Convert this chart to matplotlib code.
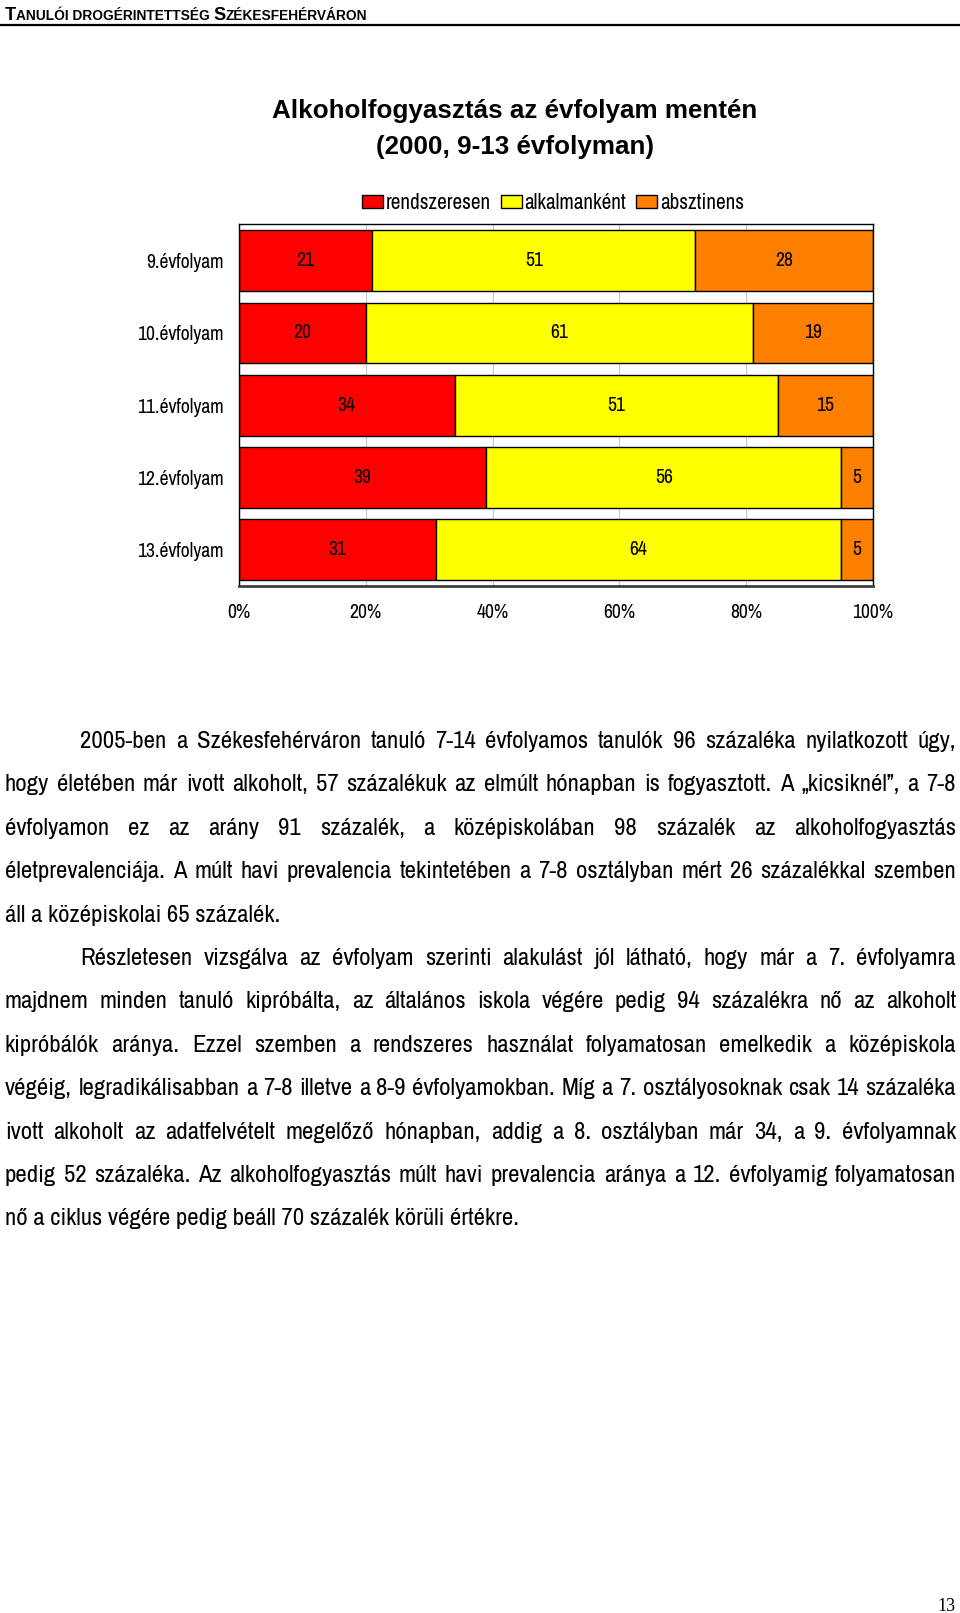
import matplotlib
matplotlib.use('Agg')
import matplotlib.pyplot as plt
from matplotlib import font_manager as fm

# Data
evfolyam = ['9.évfolyam', '10.évfolyam', '11.évfolyam', '12.évfolyam', '13.évfolyam']
rendszeresen = [21, 20, 34, 39, 31]
alkalmankent = [51, 61, 51, 56, 64]
absztinens = [28, 19, 15, 5, 5]
sorozatok = ['rendszeresen', 'alkalmanként', 'absztinens']
szinek = ['#ff0000', '#ffff00', '#ff8000']
xticks = [0, 20, 40, 60, 80, 100]
xticklabels = ['0%', '20%', '40%', '60%', '80%', '100%']

cim = ['Alkoholfogyasztás az évfolyam mentén', '(2000, 9-13 évfolyman)']
fejlec = [('T', True), ('ANULÓI DROGÉRINTETTSÉG ', False), ('S', True), ('ZÉKESFEHÉRVÁRON', False)]
oldalszam = '13'

bekezdesek = [
    ['2005-ben a Székesfehérváron tanuló 7-14 évfolyamos tanulók 96 százaléka nyilatkozott úgy,',
     'hogy életében már ivott alkoholt, 57 százalékuk az elmúlt hónapban is fogyasztott. A „kicsiknél”, a 7-8',
     'évfolyamon ez az arány 91 százalék, a középiskolában 98 százalék az alkoholfogyasztás',
     'életprevalenciája. A múlt havi prevalencia tekintetében a 7-8 osztályban mért 26 százalékkal szemben',
     'áll a középiskolai 65 százalék.'],
    ['Részletesen vizsgálva az évfolyam szerinti alakulást jól látható, hogy már a 7. évfolyamra',
     'majdnem minden tanuló kipróbálta, az általános iskola végére pedig 94 százalékra nő az alkoholt',
     'kipróbálók aránya. Ezzel szemben a rendszeres használat folyamatosan emelkedik a középiskola',
     'végéig, legradikálisabban a 7-8 illetve a 8-9 évfolyamokban. Míg a 7. osztályosoknak csak 14 százaléka',
     'ivott alkoholt az adatfelvételt megelőző hónapban, addig a 8. osztályban már 34, a 9. évfolyamnak',
     'pedig 52 százaléka. Az alkoholfogyasztás múlt havi prevalencia aránya a 12. évfolyamig folyamatosan',
     'nő a ciklus végére pedig beáll 70 százalék körüli értékre.'],
]


def font_weight(f):
    w = f.weight
    if isinstance(w, str):
        w = fm.weight_dict.get(w, 400)
    return w


def narrow_font():
    regular = [f for f in fm.fontManager.ttflist
               if font_weight(f) == 400 and f.style == 'normal']
    for f in regular:
        if 'Narrow' in f.name:
            return f.fname
    for f in regular:
        if 'condensed' in str(f.stretch) and 'Sans' in f.name:
            return f.fname
    for f in regular:
        if 'Condensed' in f.name:
            return f.fname
    return fm.findfont('Liberation Sans')


narrow = narrow_font()

W, H = 960, 1613
fig = plt.figure(figsize=(W / 100, H / 100), dpi=100)
renderer = fig.canvas.get_renderer()


def px(x, y):
    return x / W, 1 - y / H


def width(s, fp):
    t = fig.text(0, 0, s, fontproperties=fp)
    w = t.get_window_extent(renderer).width
    t.remove()
    return w


def fit(s, target, **kw):
    fp = fm.FontProperties(size=10, **kw)
    return 10 * target / width(s, fp)


# header in small caps
ossz = sum(width(t, fm.FontProperties(family='Liberation Sans', weight='bold', size=10 if n else 7.5))
           for t, n in fejlec)
big = 10 * 362 / ossz
small = big * 0.75
x = 5
for txt, nagy in fejlec:
    fp = fm.FontProperties(family='Liberation Sans', weight='bold', size=big if nagy else small)
    fig.text(*px(x, 19.5), txt, fontproperties=fp, va='baseline', ha='left')
    x += width(txt, fp)
fig.add_artist(plt.Line2D([0, 1], [1 - 24.5 / H] * 2, color='black', lw=1.6))

# title
tsize = fit(cim[0], 483, family='Liberation Sans', weight='bold')
tfp = fm.FontProperties(family='Liberation Sans', weight='bold', size=tsize)
fig.text(*px(515, 118), cim[0], fontproperties=tfp, ha='center', va='baseline')
fig.text(*px(515, 154), cim[1], fontproperties=tfp, ha='center', va='baseline')

# chart
lsize = fit('10.évfolyam', 87, fname=narrow)
lfp = fm.FontProperties(fname=narrow, size=lsize)

ax = fig.add_axes([239 / W, 1 - 586 / H, 634 / W, 361.5 / H])
ypos = list(range(len(evfolyam)))
bal = [0] * len(evfolyam)
kontener = []
for ertek, nev, szin in zip([rendszeresen, alkalmankent, absztinens], sorozatok, szinek):
    c = ax.barh(ypos, ertek, left=bal, height=0.84, color=szin, edgecolor='black', lw=1, label=nev)
    ax.bar_label(c, labels=[str(v) for v in ertek], label_type='center', fontproperties=lfp)
    kontener.append(c)
    bal = [b + v for b, v in zip(bal, ertek)]

ax.set_xlim(0, 100)
ax.set_ylim(len(evfolyam) - 0.5, -0.5)
ax.set_yticks(ypos)
ax.set_yticklabels(evfolyam, fontproperties=lfp)
ax.set_xticks(xticks)
ax.set_xticklabels(xticklabels, fontproperties=lfp)
ax.tick_params(axis='y', length=0, pad=11)
ax.tick_params(axis='x', length=0, pad=12)
ax.xaxis.grid(True, color='#c8c8c8', lw=0.8)
ax.set_axisbelow(True)
for s in ['left', 'top', 'right']:
    ax.spines[s].set_color('black')
    ax.spines[s].set_linewidth(1)
ax.spines['bottom'].set_color('#404040')
ax.spines['bottom'].set_linewidth(2)

gsize = fit('rendszeresen', 106, fname=narrow)
gfp = fm.FontProperties(fname=narrow, size=gsize)
gpx = gsize * 100 / 72
fig.legend(kontener, sorozatok, loc='center', bbox_to_anchor=px(553, 203), ncol=3, frameon=False,
           prop=gfp, handlelength=21 / gpx, handleheight=12 / gpx, handletextpad=3 / gpx,
           columnspacing=10 / gpx, borderpad=0, borderaxespad=0)

# body text, justified
bsize = fit(bekezdesek[1][-1], 516, fname=narrow)
bfp = fm.FontProperties(fname=narrow, size=bsize)
bpx = bsize * 100 / 72
left, right, indent = 5, 956, 80
y = 740
for bek in bekezdesek:
    for i, sor in enumerate(bek):
        x0 = indent if i == 0 else left
        base = y + 0.32 * bpx
        if i == len(bek) - 1:
            fig.text(*px(x0, base), sor, fontproperties=bfp, va='baseline', ha='left')
        else:
            szavak = sor.split(' ')
            ws = [width(s, bfp) for s in szavak]
            gap = (right - x0 - sum(ws)) / (len(szavak) - 1)
            x = x0
            for s, w in zip(szavak, ws):
                fig.text(*px(x, base), s, fontproperties=bfp, va='baseline', ha='left')
                x += w + gap
        y += 43.4

fig.text(*px(956, 1611), oldalszam, family='Liberation Serif', fontsize=13, ha='right', va='baseline')

fig.savefig('out.png', dpi=100)
